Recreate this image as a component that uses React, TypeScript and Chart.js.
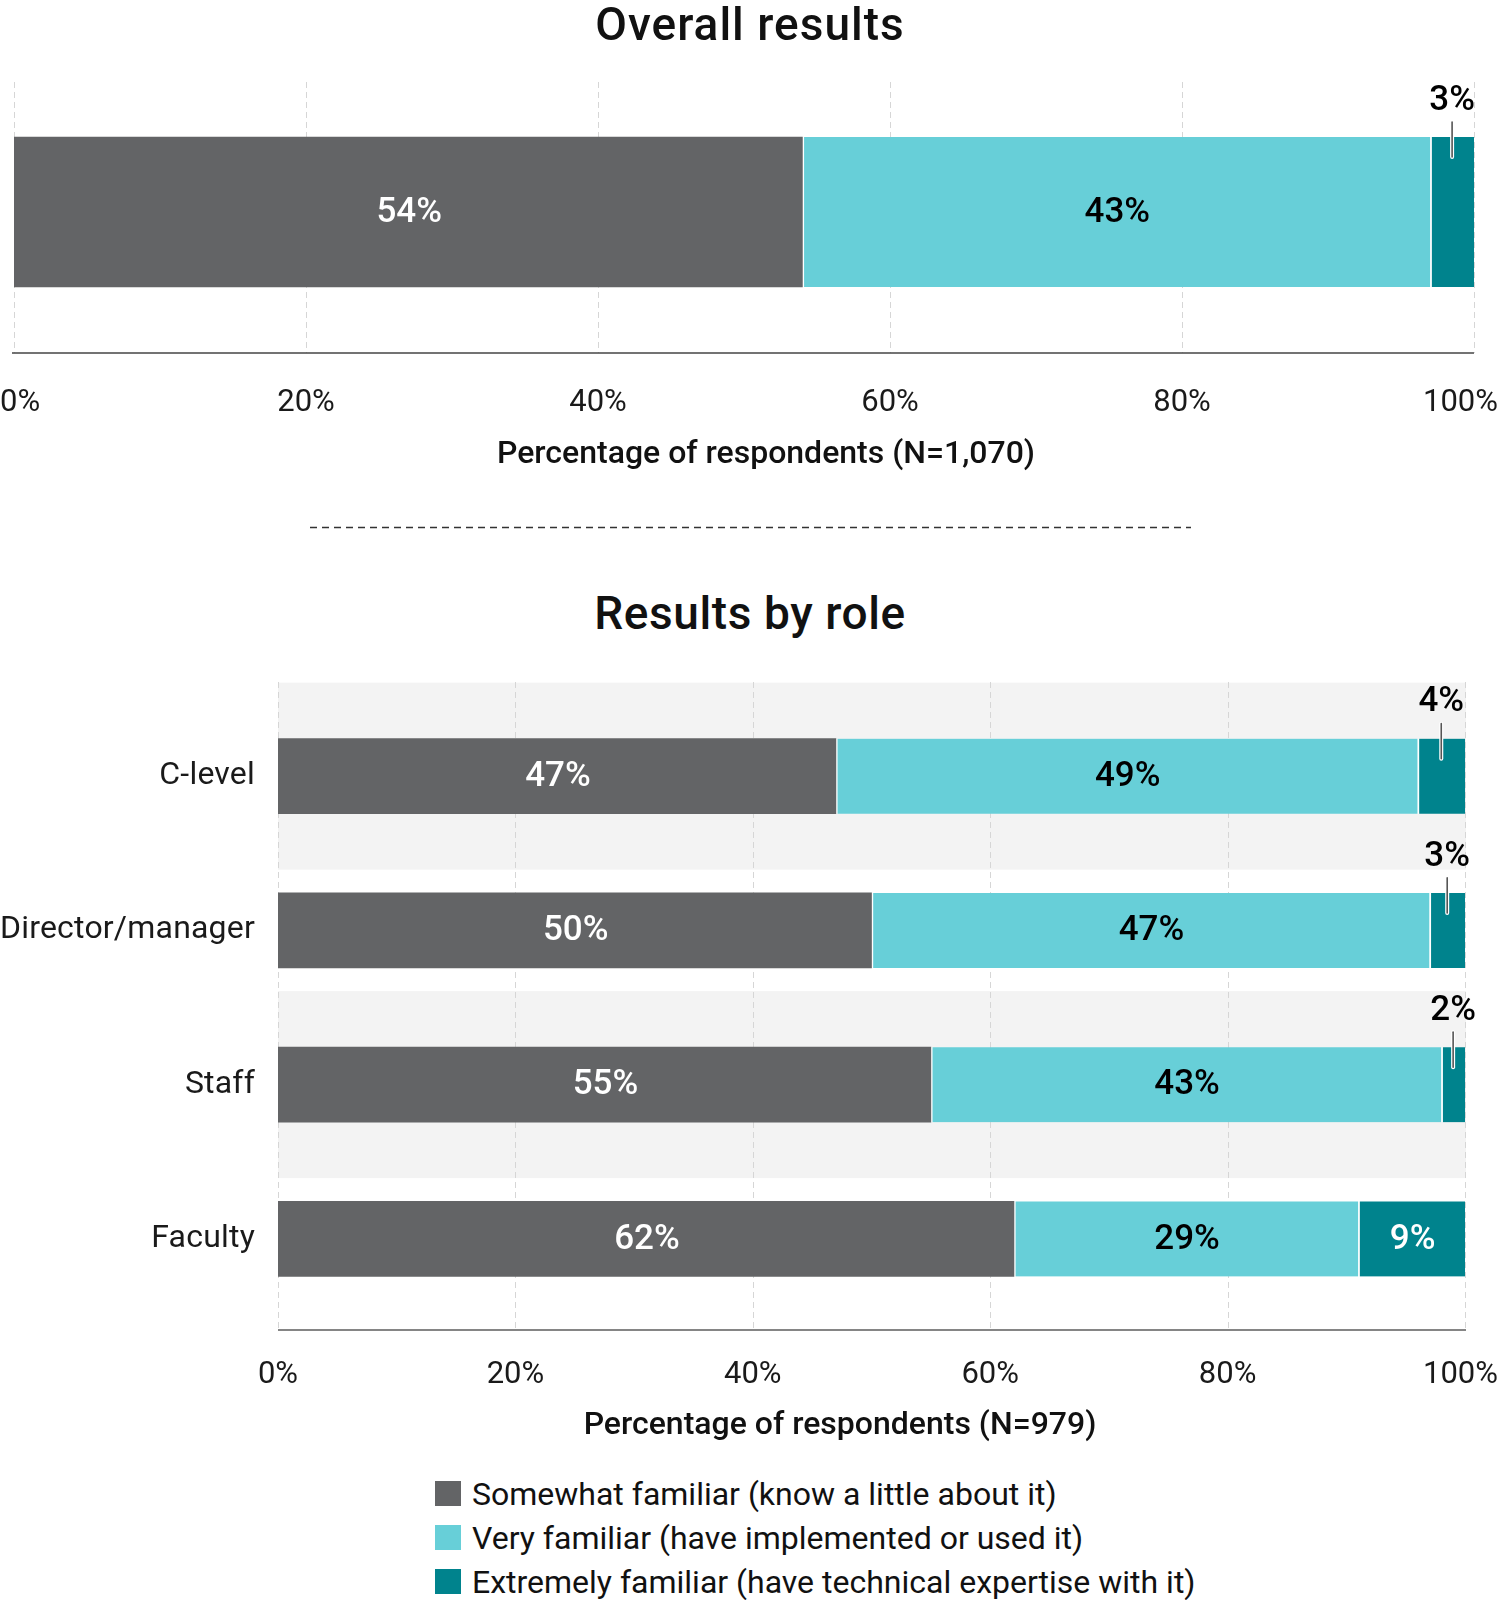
import React, { useEffect, useRef } from 'react';
import { Chart, registerables } from 'chart.js';

Chart.register(...registerables);

// ---------- data ----------
const seriesNames = [
  'Somewhat familiar (know a little about it)',
  'Very familiar (have implemented or used it)',
  'Extremely familiar (have technical expertise with it)',
];
const seriesColors = ['#636466', '#67CFD8', '#00838D'];
const labelColors = ['#ffffff', '#000000', '#ffffff'];

const overallCategories = ['Overall'];
const overallSomewhat = [54];
const overallVery = [43];
const overallExtremely = [3];

const roleCategories = ['C-level', 'Director/manager', 'Staff', 'Faculty'];
const roleSomewhat = [47, 50, 55, 62];
const roleVery = [49, 47, 43, 29];
const roleExtremely = [4, 3, 2, 9];

const xTickValues = [0, 20, 40, 60, 80, 100];
const xTickLabels = ['0%', '20%', '40%', '60%', '80%', '100%'];

const overallTitle = 'Overall results';
const roleTitle = 'Results by role';
const overallAxisTitle = 'Percentage of respondents (N=1,070)';
const roleAxisTitle = 'Percentage of respondents (N=979)';

const FONT = 'Roboto, "Noto Sans", sans-serif';

type DecorCfg = {
  gridTop: number;
  axisY: number;
  axisX0: number;
  axisX1: number;
  axisColor: string;
  axisWidth: number;
  tickY: number;
  bandRows?: number[];
  bandHalf?: number;
  catLabelX?: number;
  calloutGap: number;
  separator?: { x0: number; x1: number; y: number };
};

function makeDecor(cfg: DecorCfg) {
  return {
    id: 'decor',
    beforeDatasetsDraw(chart: any) {
      const ctx = chart.ctx;
      const xs = chart.scales.x;
      const ys = chart.scales.y;
      const x0 = xs.getPixelForValue(0);
      const x100 = xs.getPixelForValue(100);
      ctx.save();
      // background bands
      if (cfg.bandRows && cfg.bandHalf) {
        ctx.fillStyle = '#F3F3F3';
        for (const r of cfg.bandRows) {
          const cy = ys.getPixelForValue(r);
          ctx.fillRect(x0, cy - cfg.bandHalf, x100 - x0 + 1, cfg.bandHalf * 2);
        }
      }
      // dashed grid lines
      ctx.setLineDash([6, 4]);
      ctx.strokeStyle = '#D6D6D6';
      ctx.lineWidth = 1;
      for (const v of xTickValues) {
        const px = Math.round(xs.getPixelForValue(v)) + 0.5;
        ctx.beginPath();
        ctx.moveTo(px, cfg.gridTop);
        ctx.lineTo(px, cfg.axisY);
        ctx.stroke();
      }
      ctx.setLineDash([]);
      // axis line
      ctx.strokeStyle = cfg.axisColor;
      ctx.lineWidth = cfg.axisWidth;
      ctx.beginPath();
      ctx.moveTo(cfg.axisX0, cfg.axisY);
      ctx.lineTo(cfg.axisX1, cfg.axisY);
      ctx.stroke();
      // tick labels (kept inside the canvas)
      ctx.font = `400 31px ${FONT}`;
      ctx.fillStyle = '#1a1a1a';
      ctx.textBaseline = 'middle';
      ctx.textAlign = 'left';
      xTickValues.forEach((v, i) => {
        const px = xs.getPixelForValue(v);
        const label = xTickLabels[i];
        const w = ctx.measureText(label).width;
        let left = px - w / 2;
        if (left < 0) left = 0;
        if (left + w > 1498) left = 1498 - w;
        ctx.fillText(label, left, cfg.tickY);
      });
      // category labels
      if (cfg.catLabelX !== undefined) {
        ctx.textAlign = 'right';
        ctx.font = `400 32px ${FONT}`;
        try {
          (ctx as any).letterSpacing = '0.2px';
        } catch (e) {}
        chart.data.labels.forEach((lab: string, i: number) => {
          ctx.fillText(lab, cfg.catLabelX, ys.getPixelForValue(i));
        });
        try {
          (ctx as any).letterSpacing = '0px';
        } catch (e) {}
      }
      ctx.restore();
    },
    afterDatasetsDraw(chart: any) {
      const ctx = chart.ctx;
      ctx.save();
      ctx.textBaseline = 'middle';
      ctx.textAlign = 'center';
      chart.data.datasets.forEach((ds: any, d: number) => {
        const meta = chart.getDatasetMeta(d);
        meta.data.forEach((el: any, j: number) => {
          const val = ds.data[j];
          const p = el.getProps(['x', 'base', 'y', 'height'], true);
          const cx = (p.x + p.base) / 2;
          const label = `${val}%`;
          ctx.font = `500 35px ${FONT}`;
          if (val >= 5) {
            ctx.fillStyle = labelColors[d];
            ctx.fillText(label, cx + 1, p.y + 1);
          } else {
            const top = p.y - p.height / 2;
            // leader line
            ctx.lineCap = 'round';
            ctx.strokeStyle = '#ffffff';
            ctx.lineWidth = 4;
            ctx.beginPath();
            ctx.moveTo(cx, top - 15);
            ctx.lineTo(cx, top + 20);
            ctx.stroke();
            ctx.strokeStyle = '#555555';
            ctx.lineWidth = 1.6;
            ctx.beginPath();
            ctx.moveTo(cx, top - 15);
            ctx.lineTo(cx, top + 20);
            ctx.stroke();
            ctx.fillStyle = '#000000';
            ctx.font = `500 35px ${FONT}`;
            ctx.fillText(label, cx, top - cfg.calloutGap);
          }
        });
      });
      ctx.restore();
    },
    afterDraw(chart: any) {
      if (!cfg.separator) return;
      const ctx = chart.ctx;
      const s = cfg.separator;
      ctx.save();
      ctx.setLineDash([7, 5]);
      ctx.strokeStyle = '#333333';
      ctx.lineWidth = 1.3;
      ctx.beginPath();
      ctx.moveTo(s.x0, s.y + 0.5);
      ctx.lineTo(s.x1, s.y + 0.5);
      ctx.stroke();
      ctx.restore();
    },
  };
}

function buildConfig(
  categories: string[],
  a: number[],
  b: number[],
  c: number[],
  thickness: number,
  padding: any,
  decor: DecorCfg
) {
  const values = [a, b, c];
  return {
    type: 'bar',
    data: {
      labels: categories,
      datasets: values.map((arr, i) => ({
        label: seriesNames[i],
        data: arr,
        backgroundColor: seriesColors[i],
        borderColor: '#ffffff',
        borderWidth: i === 0 ? 0 : { left: 2, top: 0, right: 0, bottom: 0 },
        borderSkipped: false,
        barThickness: thickness,
      })),
    },
    options: {
      indexAxis: 'y',
      animation: false,
      responsive: false,
      maintainAspectRatio: false,
      devicePixelRatio: 1,
      events: [],
      layout: { padding },
      scales: {
        x: { type: 'linear', min: 0, max: 100, stacked: true, display: false },
        y: { type: 'category', stacked: true, display: false, offset: true },
      },
      plugins: {
        legend: { display: false },
        tooltip: { enabled: false },
        title: { display: false },
      },
    },
    plugins: [makeDecor(decor)],
  };
}

function ChartCanvas({ top, height, config }: { top: number; height: number; config: any }) {
  const ref = useRef<HTMLCanvasElement | null>(null);
  useEffect(() => {
    if (!ref.current) return;
    const chart = new Chart(ref.current, config);
    return () => chart.destroy();
  }, []);
  return (
    <canvas
      ref={ref}
      width={1500}
      height={height}
      style={{ position: 'absolute', left: 0, top, width: 1500, height }}
    />
  );
}

function Text({ x, y, size, weight, children, align = 'center', spacing = 0 }: any) {
  const transform = align === 'center' ? 'translate(-50%, -50%)' : 'translate(0, -50%)';
  return (
    <div
      style={{
        position: 'absolute',
        left: x,
        top: y,
        transform,
        fontSize: size,
        fontWeight: weight,
        lineHeight: 1,
        whiteSpace: 'nowrap',
        color: '#111111',
        fontFamily: FONT,
        letterSpacing: spacing,
      }}
    >
      {children}
    </div>
  );
}

export default function App() {
  const topConfig = buildConfig(
    overallCategories,
    overallSomewhat,
    overallVery,
    overallExtremely,
    150,
    { left: 14, right: 26, top: 82, bottom: 560 - 342 },
    {
      gridTop: 82,
      axisY: 353,
      axisX0: 12,
      axisX1: 1474,
      axisColor: '#444444',
      axisWidth: 1.5,
      tickY: 403,
      calloutGap: 36,
      separator: { x0: 310, x1: 1191, y: 527 },
    }
  );
  const botTop = 640;
  const botConfig = buildConfig(
    roleCategories,
    roleSomewhat,
    roleVery,
    roleExtremely,
    75,
    { left: 278, right: 35, top: 699 - botTop, bottom: 820 - (1316 - botTop) },
    {
      gridTop: 682 - botTop,
      axisY: 1330 - botTop,
      axisX0: 278,
      axisX1: 1466,
      axisColor: '#858585',
      axisWidth: 2,
      tickY: 1375 - botTop,
      bandRows: [0, 2],
      bandHalf: 93.5,
      catLabelX: 255,
      calloutGap: 36,
    }
  );

  return (
    <div
      style={{
        position: 'absolute',
        left: 0,
        top: 0,
        width: 1500,
        height: 1600,
        background: '#ffffff',
        fontFamily: FONT,
        overflow: 'hidden',
      }}
    >
      <ChartCanvas top={0} height={560} config={topConfig} />
      <ChartCanvas top={botTop} height={820} config={botConfig} />
      <Text x={750} y={24} size={46} weight={500} spacing={1}>{overallTitle}</Text>
      <Text x={766} y={452} size={32} weight={500}>{overallAxisTitle}</Text>
      <Text x={750} y={613} size={46} weight={500} spacing={0.6}>{roleTitle}</Text>
      <Text x={840} y={1423} size={32} weight={500}>{roleAxisTitle}</Text>
      {seriesNames.map((name, i) => (
        <div key={name}>
          <div
            style={{
              position: 'absolute',
              left: 435,
              top: 1481 + i * 44,
              width: 26,
              height: 25,
              background: seriesColors[i],
            }}
          />
          <Text x={472} y={1494 + i * 44} size={32} weight={400} align="left" spacing={0}>
            {name}
          </Text>
        </div>
      ))}
    </div>
  );
}
